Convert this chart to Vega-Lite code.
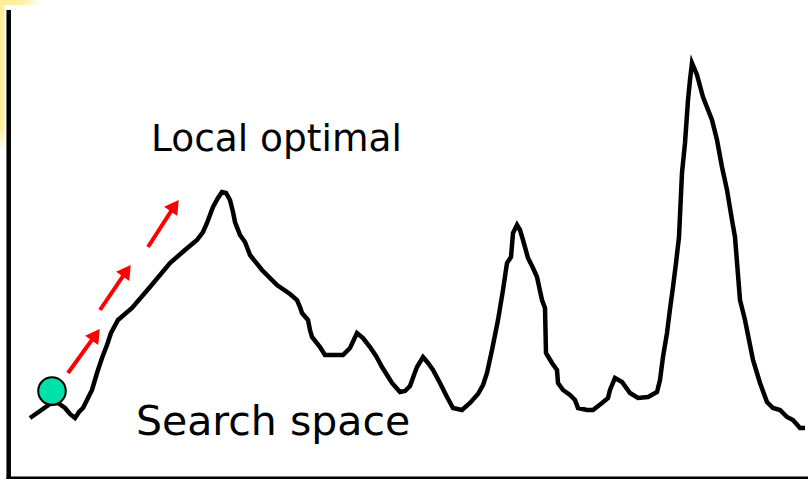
{
  "$schema": "https://vega.github.io/schema/vega-lite/v6.json",
  "width": 808,
  "height": 479,
  "autosize": {"type": "none"},
  "padding": 0,
  "background": "#ffffff",
  "config": {"view": {"stroke": null}},
  "datasets": {
    "curve": [
      {"x":30,"y":418},{"x":40,"y":411},{"x":50,"y":404},{"x":58,"y":403},{"x":65,"y":408},{"x":70,"y":414},{"x":75,"y":418},{"x":79,"y":412},{"x":83,"y":408},{"x":87,"y":400},{"x":92,"y":390},{"x":97,"y":373},{"x":102,"y":358},{"x":107,"y":345},{"x":111,"y":333},{"x":118,"y":320},{"x":132,"y":308},{"x":150,"y":287},{"x":170,"y":263},{"x":185,"y":250},{"x":197,"y":240},{"x":203,"y":232},{"x":207,"y":223},{"x":213,"y":207},{"x":218,"y":198},{"x":222,"y":192},{"x":226,"y":193},{"x":230,"y":200},{"x":233,"y":212},{"x":235,"y":222},{"x":240,"y":235},{"x":245,"y":242},{"x":250,"y":255},{"x":262,"y":270},{"x":277,"y":285},{"x":290,"y":294},{"x":297,"y":300},{"x":300,"y":307},{"x":302,"y":313},{"x":308,"y":320},{"x":310,"y":330},{"x":312,"y":337},{"x":320,"y":347},{"x":325,"y":355},{"x":343,"y":355},{"x":350,"y":348},{"x":357,"y":333},{"x":363,"y":338},{"x":370,"y":347},{"x":376,"y":356},{"x":382,"y":367},{"x":392,"y":383},{"x":400,"y":392},{"x":405,"y":391},{"x":410,"y":386},{"x":414,"y":375},{"x":417,"y":367},{"x":423,"y":357},{"x":428,"y":363},{"x":433,"y":370},{"x":440,"y":383},{"x":447,"y":397},{"x":453,"y":408},{"x":462,"y":410},{"x":470,"y":403},{"x":478,"y":394},{"x":483,"y":385},{"x":487,"y":373},{"x":492,"y":350},{"x":498,"y":320},{"x":503,"y":290},{"x":507,"y":263},{"x":511,"y":257},{"x":513,"y":233},{"x":517,"y":225},{"x":520,"y":230},{"x":523,"y":240},{"x":528,"y":258},{"x":533,"y":268},{"x":537,"y":277},{"x":542,"y":300},{"x":545,"y":308},{"x":546,"y":353},{"x":552,"y":363},{"x":557,"y":370},{"x":558,"y":383},{"x":563,"y":390},{"x":570,"y":395},{"x":575,"y":400},{"x":578,"y":408},{"x":587,"y":410},{"x":593,"y":410},{"x":602,"y":403},{"x":608,"y":398},{"x":610,"y":390},{"x":615,"y":378},{"x":622,"y":382},{"x":630,"y":393},{"x":638,"y":398},{"x":648,"y":397},{"x":657,"y":392},{"x":660,"y":380},{"x":663,"y":357},{"x":667,"y":333},{"x":670,"y":309},{"x":673,"y":287},{"x":676,"y":263},{"x":679,"y":237},{"x":682,"y":173},{"x":685,"y":143},{"x":688,"y":100},{"x":690,"y":80},{"x":692,"y":63},{"x":695,"y":70},{"x":697,"y":75},{"x":703,"y":97},{"x":712,"y":120},{"x":717,"y":140},{"x":722,"y":167},{"x":727,"y":190},{"x":732,"y":220},{"x":735,"y":237},{"x":740,"y":300},{"x":745,"y":320},{"x":750,"y":345},{"x":753,"y":360},{"x":760,"y":383},{"x":767,"y":402},{"x":773,"y":408},{"x":780,"y":410},{"x":787,"y":417},{"x":793,"y":420},{"x":800,"y":428},{"x":805,"y":428}
    ],
    "arrows": [
      {"x":68,"y":373,"hx":95.7,"hy":334.6},
      {"x":100,"y":310,"hx":126.7,"hy":270.6},
      {"x":148,"y":247,"hx":174.7,"hy":205.6}
    ]
  },
  "encoding": {
    "x": {"type": "quantitative", "scale": {"domain": [0, 808], "nice": false, "zero": false}, "axis": null},
    "y": {"type": "quantitative", "scale": {"domain": [0, 479], "nice": false, "zero": false, "reverse": true}, "axis": null}
  },
  "layer": [
    {
      "data": {"values": [{"x":0,"x2":4.5,"y":0,"y2":150}]},
      "mark": {"type": "rect", "color": {"gradient": "linear", "x1": 0, "y1": 0, "x2": 0, "y2": 1, "stops": [{"offset": 0, "color": "#fdeea0"}, {"offset": 0.85, "color": "#fdeea0"}, {"offset": 1, "color": "#ffffff"}]}},
      "encoding": {"x": {"field": "x"}, "x2": {"field": "x2"}, "y": {"field": "y"}, "y2": {"field": "y2"}}
    },
    {
      "data": {"values": [{"x":0,"x2":42,"y":0,"y2":5}]},
      "mark": {"type": "rect", "color": {"gradient": "linear", "x1": 0, "y1": 0, "x2": 1, "y2": 0, "stops": [{"offset": 0, "color": "#fdeea0"}, {"offset": 0.5, "color": "#fdeea0"}, {"offset": 1, "color": "#ffffff"}]}},
      "encoding": {"x": {"field": "x"}, "x2": {"field": "x2"}, "y": {"field": "y"}, "y2": {"field": "y2"}}
    },
    {
      "data": {"values": [{"x":8.7,"y":10,"y2":479}]},
      "mark": {"type": "rule", "color": "#000000", "strokeWidth": 4.5},
      "encoding": {"x": {"field": "x"}, "y": {"field": "y"}, "y2": {"field": "y2"}}
    },
    {
      "data": {"values": [{"x":6.5,"x2":808,"y":478}]},
      "mark": {"type": "rule", "color": "#000000", "strokeWidth": 3},
      "encoding": {"x": {"field": "x"}, "x2": {"field": "x2"}, "y": {"field": "y"}}
    },
    {
      "data": {"name": "curve"},
      "mark": {"type": "line", "color": "#000000", "strokeWidth": 4.5, "strokeJoin": "miter", "strokeCap": "butt"},
      "encoding": {"x": {"field": "x"}, "y": {"field": "y"}}
    },
    {
      "data": {"name": "arrows"},
      "mark": {"type": "rule", "color": "#ff0000", "strokeWidth": 4},
      "encoding": {"x": {"field": "x"}, "y": {"field": "y"}, "x2": {"field": "hx"}, "y2": {"field": "hy"}}
    },
    {
      "data": {"name": "arrows"},
      "mark": {"type": "point", "shape": "triangle-up", "filled": true, "color": "#ff0000", "size": 260, "angle": 35, "opacity": 1},
      "encoding": {"x": {"field": "hx"}, "y": {"field": "hy"}}
    },
    {
      "data": {"values": [{"x":52,"y":391}]},
      "mark": {"type": "point", "shape": "circle", "filled": true, "fill": "#00e0a8", "stroke": "#000000", "strokeWidth": 2, "size": 760, "opacity": 1},
      "encoding": {"x": {"field": "x"}, "y": {"field": "y"}}
    },
    {
      "data": {"values": [{"x":151,"y":151,"label":"Local optimal"}]},
      "mark": {"type": "text", "font": "DejaVu Sans", "fontSize": 37.5, "align": "left", "baseline": "alphabetic", "color": "#000000"},
      "encoding": {"x": {"field": "x"}, "y": {"field": "y"}, "text": {"field": "label"}}
    },
    {
      "data": {"values": [{"x":136,"y":435,"label":"Search space"}]},
      "mark": {"type": "text", "font": "DejaVu Sans", "fontSize": 41, "align": "left", "baseline": "alphabetic", "color": "#000000"},
      "encoding": {"x": {"field": "x"}, "y": {"field": "y"}, "text": {"field": "label"}}
    }
  ]
}
